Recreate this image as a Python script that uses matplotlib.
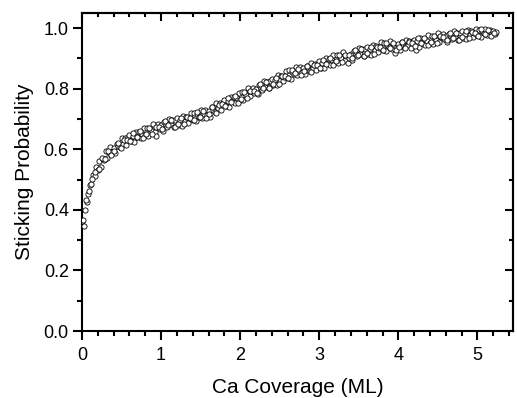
import matplotlib
matplotlib.use('Agg')
import matplotlib.pyplot as plt
from matplotlib.ticker import MultipleLocator

plt.rcParams['font.family'] = ['Liberation Sans', 'DejaVu Sans']

# coverage (ML), one row per 0.2 ML
coverage = [
    0.00, 0.02, 0.04, 0.06, 0.08, 0.10, 0.12, 0.14, 0.16, 0.18,
    0.20, 0.22, 0.24, 0.26, 0.28, 0.30, 0.32, 0.34, 0.36, 0.38,
    0.40, 0.42, 0.44, 0.46, 0.48, 0.50, 0.52, 0.54, 0.56, 0.58,
    0.60, 0.62, 0.64, 0.66, 0.68, 0.70, 0.72, 0.74, 0.76, 0.78,
    0.80, 0.82, 0.84, 0.86, 0.88, 0.90, 0.92, 0.94, 0.96, 0.98,
    1.00, 1.02, 1.04, 1.06, 1.08, 1.10, 1.12, 1.14, 1.16, 1.18,
    1.20, 1.22, 1.24, 1.26, 1.28, 1.30, 1.32, 1.34, 1.36, 1.38,
    1.40, 1.42, 1.44, 1.46, 1.48, 1.50, 1.52, 1.54, 1.56, 1.58,
    1.60, 1.62, 1.64, 1.66, 1.68, 1.70, 1.72, 1.74, 1.76, 1.78,
    1.80, 1.82, 1.84, 1.86, 1.88, 1.90, 1.92, 1.94, 1.96, 1.98,
    2.00, 2.02, 2.04, 2.06, 2.08, 2.10, 2.12, 2.14, 2.16, 2.18,
    2.20, 2.22, 2.24, 2.26, 2.28, 2.30, 2.32, 2.34, 2.36, 2.38,
    2.40, 2.42, 2.44, 2.46, 2.48, 2.50, 2.52, 2.54, 2.56, 2.58,
    2.60, 2.62, 2.64, 2.66, 2.68, 2.70, 2.72, 2.74, 2.76, 2.78,
    2.80, 2.82, 2.84, 2.86, 2.88, 2.90, 2.92, 2.94, 2.96, 2.98,
    3.00, 3.02, 3.04, 3.06, 3.08, 3.10, 3.12, 3.14, 3.16, 3.18,
    3.20, 3.22, 3.24, 3.26, 3.28, 3.30, 3.32, 3.34, 3.36, 3.38,
    3.40, 3.42, 3.44, 3.46, 3.48, 3.50, 3.52, 3.54, 3.56, 3.58,
    3.60, 3.62, 3.64, 3.66, 3.68, 3.70, 3.72, 3.74, 3.76, 3.78,
    3.80, 3.82, 3.84, 3.86, 3.88, 3.90, 3.92, 3.94, 3.96, 3.98,
    4.00, 4.02, 4.04, 4.06, 4.08, 4.10, 4.12, 4.14, 4.16, 4.18,
    4.20, 4.22, 4.24, 4.26, 4.28, 4.30, 4.32, 4.34, 4.36, 4.38,
    4.40, 4.42, 4.44, 4.46, 4.48, 4.50, 4.52, 4.54, 4.56, 4.58,
    4.60, 4.62, 4.64, 4.66, 4.68, 4.70, 4.72, 4.74, 4.76, 4.78,
    4.80, 4.82, 4.84, 4.86, 4.88, 4.90, 4.92, 4.94, 4.96, 4.98,
    5.00, 5.02, 5.04, 5.06, 5.08, 5.10, 5.12, 5.14, 5.16, 5.18,
    5.20, 5.22, 5.24,
]

sticking = [
    0.362, 0.347, 0.398, 0.425, 0.452, 0.482, 0.487, 0.515, 0.512, 0.541,
    0.532, 0.562, 0.541, 0.568, 0.566, 0.593, 0.570, 0.590, 0.606, 0.591,
    0.605, 0.587, 0.619, 0.612, 0.607, 0.636, 0.619, 0.636, 0.615, 0.639,
    0.647, 0.627, 0.643, 0.625, 0.658, 0.642, 0.656, 0.637, 0.652, 0.670,
    0.647, 0.671, 0.644, 0.667, 0.661, 0.683, 0.656, 0.643, 0.684, 0.667,
    0.680, 0.660, 0.690, 0.681, 0.674, 0.701, 0.682, 0.697, 0.674, 0.696,
    0.702, 0.681, 0.696, 0.678, 0.710, 0.694, 0.707, 0.688, 0.702, 0.720,
    0.697, 0.720, 0.692, 0.715, 0.708, 0.730, 0.702, 0.718, 0.729, 0.712,
    0.727, 0.708, 0.739, 0.731, 0.724, 0.752, 0.735, 0.752, 0.731, 0.754,
    0.762, 0.742, 0.758, 0.741, 0.774, 0.758, 0.772, 0.753, 0.769, 0.787,
    0.764, 0.788, 0.762, 0.785, 0.779, 0.802, 0.775, 0.791, 0.804, 0.787,
    0.800, 0.781, 0.811, 0.803, 0.796, 0.824, 0.806, 0.823, 0.801, 0.824,
    0.832, 0.812, 0.828, 0.811, 0.844, 0.828, 0.842, 0.824, 0.839, 0.859,
    0.837, 0.861, 0.833, 0.856, 0.849, 0.871, 0.844, 0.859, 0.871, 0.854,
    0.867, 0.847, 0.876, 0.867, 0.859, 0.886, 0.867, 0.883, 0.861, 0.883,
    0.890, 0.870, 0.886, 0.867, 0.900, 0.884, 0.898, 0.879, 0.894, 0.912,
    0.889, 0.912, 0.884, 0.907, 0.900, 0.921, 0.894, 0.909, 0.884, 0.903,
    0.915, 0.894, 0.924, 0.914, 0.907, 0.933, 0.915, 0.930, 0.908, 0.930,
    0.937, 0.916, 0.931, 0.912, 0.944, 0.927, 0.941, 0.921, 0.935, 0.953,
    0.929, 0.952, 0.923, 0.945, 0.938, 0.958, 0.930, 0.945, 0.917, 0.937,
    0.948, 0.927, 0.955, 0.945, 0.937, 0.962, 0.943, 0.958, 0.934, 0.956,
    0.962, 0.929, 0.956, 0.937, 0.969, 0.952, 0.965, 0.945, 0.959, 0.976,
    0.952, 0.975, 0.947, 0.969, 0.962, 0.983, 0.955, 0.970, 0.981, 0.963,
    0.975, 0.954, 0.982, 0.972, 0.963, 0.989, 0.970, 0.984, 0.961, 0.983,
    0.989, 0.968, 0.982, 0.963, 0.995, 0.977, 0.990, 0.970, 0.983, 0.997,
    0.976, 0.995, 0.972, 0.991, 0.985, 0.998, 0.977, 0.991, 0.994, 0.983,
    0.992, 0.981, 0.988,
]

# interleaved readings in between
coverage_b = [
    0.01, 0.05, 0.09, 0.13, 0.17, 0.21, 0.25, 0.29, 0.33, 0.37,
    0.41, 0.45, 0.49, 0.53, 0.57, 0.61, 0.65, 0.69, 0.73, 0.77,
    0.81, 0.85, 0.89, 0.93, 0.97, 1.01, 1.05, 1.09, 1.13, 1.17,
    1.21, 1.25, 1.29, 1.33, 1.37, 1.41, 1.45, 1.49, 1.53, 1.57,
    1.61, 1.65, 1.69, 1.73, 1.77, 1.81, 1.85, 1.89, 1.93, 1.97,
    2.01, 2.05, 2.09, 2.13, 2.17, 2.21, 2.25, 2.29, 2.33, 2.37,
    2.41, 2.45, 2.49, 2.53, 2.57, 2.61, 2.65, 2.69, 2.73, 2.77,
    2.81, 2.85, 2.89, 2.93, 2.97, 3.01, 3.05, 3.09, 3.13, 3.17,
    3.21, 3.25, 3.29, 3.33, 3.37, 3.41, 3.45, 3.49, 3.53, 3.57,
    3.61, 3.65, 3.69, 3.73, 3.77, 3.81, 3.85, 3.89, 3.93, 3.97,
    4.01, 4.05, 4.09, 4.13, 4.17, 4.21, 4.25, 4.29, 4.33, 4.37,
    4.41, 4.45, 4.49, 4.53, 4.57, 4.61, 4.65, 4.69, 4.73, 4.77,
    4.81, 4.85, 4.89, 4.93, 4.97, 5.01, 5.05, 5.09, 5.13, 5.17,
    5.21,
]

sticking_b = [
    0.367, 0.433, 0.462, 0.502, 0.526, 0.535, 0.572, 0.568, 0.595, 0.580,
    0.596, 0.620, 0.605, 0.631, 0.632, 0.627, 0.654, 0.640, 0.659, 0.637,
    0.650, 0.670, 0.651, 0.675, 0.674, 0.667, 0.694, 0.680, 0.697, 0.673,
    0.684, 0.703, 0.683, 0.706, 0.704, 0.696, 0.722, 0.707, 0.725, 0.702,
    0.717, 0.739, 0.721, 0.747, 0.748, 0.742, 0.769, 0.756, 0.775, 0.754,
    0.767, 0.788, 0.769, 0.794, 0.794, 0.787, 0.815, 0.802, 0.822, 0.801,
    0.815, 0.836, 0.817, 0.842, 0.842, 0.837, 0.863, 0.851, 0.866, 0.844,
    0.857, 0.876, 0.856, 0.879, 0.877, 0.870, 0.896, 0.882, 0.901, 0.879,
    0.891, 0.910, 0.889, 0.912, 0.910, 0.901, 0.927, 0.912, 0.930, 0.907,
    0.919, 0.937, 0.916, 0.939, 0.937, 0.928, 0.952, 0.936, 0.952, 0.928,
    0.937, 0.955, 0.933, 0.954, 0.951, 0.941, 0.966, 0.950, 0.967, 0.943,
    0.954, 0.973, 0.952, 0.974, 0.971, 0.961, 0.985, 0.969, 0.985, 0.960,
    0.971, 0.989, 0.967, 0.988, 0.985, 0.975, 0.996, 0.982, 0.995, 0.973,
    0.983,
]

fig = plt.figure(figsize=(5.17, 3.98), dpi=100)
ax = fig.add_axes([0.1586, 0.1683, 0.8337, 0.799])

for xs, ys in [(coverage, sticking), (coverage_b, sticking_b)]:
    ax.scatter(xs, ys, s=14, facecolors='white', edgecolors='black',
               linewidths=0.6, zorder=3)

ax.set_xlim(0, 5.45)
ax.set_ylim(0, 1.05)
ax.xaxis.set_major_locator(MultipleLocator(1))
ax.xaxis.set_minor_locator(MultipleLocator(0.2))
ax.yaxis.set_major_locator(MultipleLocator(0.2))
ax.yaxis.set_minor_locator(MultipleLocator(0.1))
ax.yaxis.set_major_formatter(plt.FormatStrFormatter('%.1f'))

for sp in ax.spines.values():
    sp.set_linewidth(1.5)

ax.tick_params(which='both', direction='out', width=1.5, labelsize=13,
               top=False, right=False)
ax.tick_params(which='major', length=6.5)
ax.tick_params(which='minor', length=3.5)
ax.tick_params(axis='x', which='major', pad=5)
ax.tick_params(axis='y', which='major', pad=3)

# inward ticks on top and right
top = ax.secondary_xaxis('top')
top.xaxis.set_major_locator(MultipleLocator(1))
top.xaxis.set_minor_locator(MultipleLocator(0.2))
top.tick_params(which='both', direction='in', width=1.5, labeltop=False)
top.tick_params(which='major', length=6)
top.tick_params(which='minor', length=3)
top.spines['top'].set_linewidth(1.5)

right = ax.secondary_yaxis('right')
right.yaxis.set_major_locator(MultipleLocator(0.2))
right.yaxis.set_minor_locator(MultipleLocator(0.1))
right.tick_params(which='both', direction='in', width=1.5, labelright=False)
right.tick_params(which='major', length=6)
right.tick_params(which='minor', length=3)
right.spines['right'].set_linewidth(1.5)

ax.set_xlabel('Ca Coverage (ML)', fontsize=15, labelpad=10)
ax.set_ylabel('Sticking Probability', fontsize=15, labelpad=7)

fig.savefig('out.png', dpi=100)
